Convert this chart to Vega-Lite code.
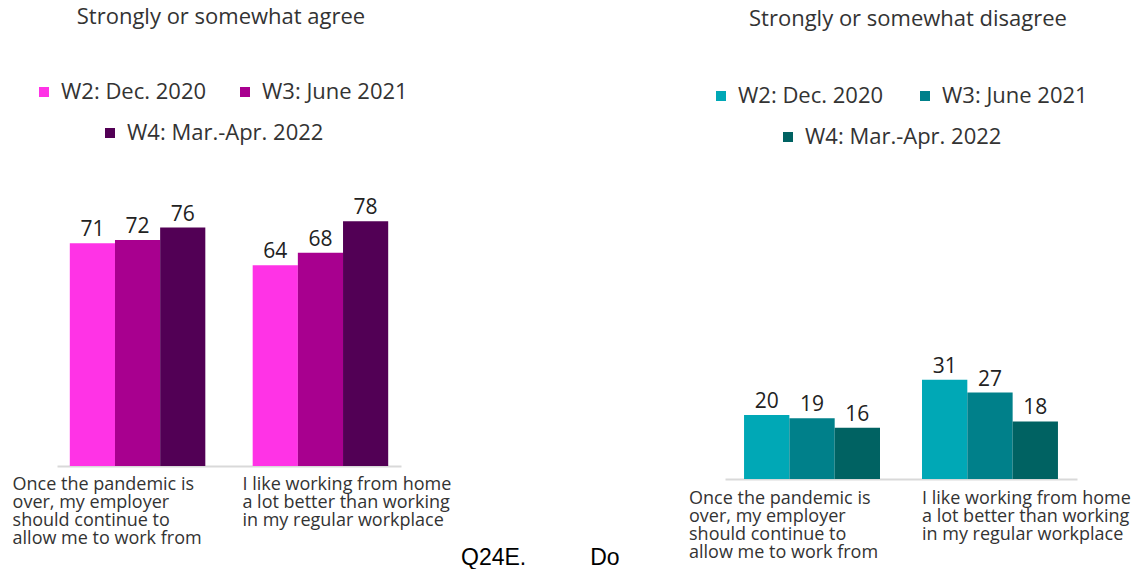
{
  "$schema": "https://vega.github.io/schema/vega-lite/v6.json",
  "padding": {"left": 12, "top": 6, "right": 0, "bottom": 0},
  "background": "white",
  "config": {
    "view": {"stroke": null},
    "font": "Open Sans",
    "title": {"font": "Open Sans", "fontSize": 22, "fontWeight": "normal", "color": "#333333"},
    "concat": {"spacing": 237}
  },
  "data": {
    "values": [
      {"panel": "agree", "statement": "Once the pandemic is over, my employer should continue to allow me to work from", "wave": "W2: Dec. 2020", "value": 71},
      {"panel": "agree", "statement": "Once the pandemic is over, my employer should continue to allow me to work from", "wave": "W3: June 2021", "value": 72},
      {"panel": "agree", "statement": "Once the pandemic is over, my employer should continue to allow me to work from", "wave": "W4: Mar.-Apr. 2022", "value": 76},
      {"panel": "agree", "statement": "I like working from home a lot better than working in my regular workplace", "wave": "W2: Dec. 2020", "value": 64},
      {"panel": "agree", "statement": "I like working from home a lot better than working in my regular workplace", "wave": "W3: June 2021", "value": 68},
      {"panel": "agree", "statement": "I like working from home a lot better than working in my regular workplace", "wave": "W4: Mar.-Apr. 2022", "value": 78},
      {"panel": "disagree", "statement": "Once the pandemic is over, my employer should continue to allow me to work from", "wave": "W2: Dec. 2020", "value": 20},
      {"panel": "disagree", "statement": "Once the pandemic is over, my employer should continue to allow me to work from", "wave": "W3: June 2021", "value": 19},
      {"panel": "disagree", "statement": "Once the pandemic is over, my employer should continue to allow me to work from", "wave": "W4: Mar.-Apr. 2022", "value": 16},
      {"panel": "disagree", "statement": "I like working from home a lot better than working in my regular workplace", "wave": "W2: Dec. 2020", "value": 31},
      {"panel": "disagree", "statement": "I like working from home a lot better than working in my regular workplace", "wave": "W3: June 2021", "value": 27},
      {"panel": "disagree", "statement": "I like working from home a lot better than working in my regular workplace", "wave": "W4: Mar.-Apr. 2022", "value": 18}
    ]
  },
  "title": {
    "text": "Q24E.\u00a0\u00a0\u00a0\u00a0\u00a0\u00a0\u00a0\u00a0\u00a0\u00a0Do",
    "orient": "bottom",
    "anchor": "start",
    "font": "Liberation Sans",
    "fontSize": 23,
    "fontWeight": "normal",
    "color": "#000000",
    "offset": 0,
    "dx": 449,
    "dy": -15
  },
  "resolve": {
    "scale": {"x": "independent", "y": "independent", "xOffset": "independent", "color": "independent", "fill": "independent"},
    "legend": {"color": "independent", "fill": "independent"}
  },
  "hconcat": [
    {
      "width": 344,
      "height": 251,
      "title": {"text": "Strongly or somewhat agree", "offset": 52, "anchor": "middle", "dx": -8},
      "transform": [{"filter": "datum.panel === 'agree'"}],
      "encoding": {
        "x": {
          "field": "statement", "type": "nominal",
          "sort": ["Once the pandemic is over, my employer should continue to allow me to work from", "I like working from home a lot better than working in my regular workplace"],
          "title": null,
          "scale": {"paddingInner": 0.259, "paddingOuter": 0.07},
          "axis": {
            "domain": true, "domainColor": "#d9d9d9", "domainWidth": 2,
            "ticks": false, "labelAngle": 0, "labelAlign": "left", "labelBaseline": "top",
            "labelPadding": 9, "labelFont": "Open Sans", "labelFontSize": 18, "labelLineHeight": 18.3,
            "labelColor": "#333333", "labelLimit": 0,
            "labelExpr": "indexof(datum.label, 'Once') === 0 ? ['Once the pandemic is', 'over, my employer', 'should continue to', 'allow me to work from'] : ['I like working from home', 'a lot better than working', 'in my regular workplace']",
            "labelOffset": {"condition": {"test": "indexof(datum.value, 'Once') === 0", "value": -125}, "value": -78}
          }
        },
        "xOffset": {"field": "wave", "type": "nominal", "sort": ["W2: Dec. 2020", "W3: June 2021", "W4: Mar.-Apr. 2022"], "scale": {"domain": ["W2: Dec. 2020", "W3: June 2021", "W4: Mar.-Apr. 2022"], "paddingInner": 0, "paddingOuter": 0}},
        "y": {"field": "value", "type": "quantitative", "scale": {"domain": [0, 80]}, "axis": null}
      },
      "layer": [
        {
          "transform": [{"filter": "datum.wave !== 'W4: Mar.-Apr. 2022'"}],
          "mark": {"type": "bar"},
          "encoding": {
            "color": {
              "field": "wave", "type": "nominal",
              "scale": {"domain": ["W2: Dec. 2020", "W3: June 2021"], "range": ["#FF33E6", "#A8008F"]},
              "legend": {"orient": "none", "legendX": -24, "legendY": -134, "direction": "horizontal", "title": null, "symbolType": "square", "symbolSize": 100, "symbolStrokeWidth": 0, "labelFont": "Open Sans", "labelFontSize": 22, "labelColor": "#333333", "labelOffset": 6, "columnPadding": 27, "labelLimit": 0}
            }
          }
        },
        {
          "transform": [{"filter": "datum.wave === 'W4: Mar.-Apr. 2022'"}],
          "mark": {"type": "bar"},
          "encoding": {
            "fill": {
              "field": "wave", "type": "nominal",
              "scale": {"domain": ["W4: Mar.-Apr. 2022"], "range": ["#520055"]},
              "legend": {"orient": "none", "legendX": 42, "legendY": -93, "direction": "horizontal", "title": null, "symbolType": "square", "symbolSize": 100, "symbolStrokeWidth": 0, "labelFont": "Open Sans", "labelFontSize": 22, "labelColor": "#333333", "labelOffset": 6, "labelLimit": 0}
            }
          }
        },
        {
          "mark": {"type": "text", "baseline": "alphabetic", "dy": -7, "font": "Open Sans", "fontSize": 21, "color": "#222222"},
          "encoding": {"text": {"field": "value", "type": "quantitative"}}
        }
      ]
    },
    {
      "width": 352,
      "height": 264,
      "title": {"text": "Strongly or somewhat disagree", "offset": 54, "anchor": "middle", "dx": 7},
      "transform": [{"filter": "datum.panel === 'disagree'"}],
      "encoding": {
        "x": {
          "field": "statement", "type": "nominal",
          "sort": ["Once the pandemic is over, my employer should continue to allow me to work from", "I like working from home a lot better than working in my regular workplace"],
          "title": null,
          "scale": {"paddingInner": 0.236, "paddingOuter": 0.107},
          "axis": {
            "domain": true, "domainColor": "#d9d9d9", "domainWidth": 2,
            "ticks": false, "labelAngle": 0, "labelAlign": "left", "labelBaseline": "top",
            "labelPadding": 10, "labelFont": "Open Sans", "labelFontSize": 18, "labelLineHeight": 18.3,
            "labelColor": "#333333", "labelLimit": 0,
            "labelExpr": "indexof(datum.label, 'Once') === 0 ? ['Once the pandemic is', 'over, my employer', 'should continue to', 'allow me to work from'] : ['I like working from home', 'a lot better than working', 'in my regular workplace']",
            "labelOffset": {"condition": {"test": "indexof(datum.value, 'Once') === 0", "value": -123}, "value": -68}
          }
        },
        "xOffset": {"field": "wave", "type": "nominal", "sort": ["W2: Dec. 2020", "W3: June 2021", "W4: Mar.-Apr. 2022"], "scale": {"domain": ["W2: Dec. 2020", "W3: June 2021", "W4: Mar.-Apr. 2022"], "paddingInner": 0, "paddingOuter": 0}},
        "y": {"field": "value", "type": "quantitative", "scale": {"domain": [0, 82.5]}, "axis": null}
      },
      "layer": [
        {
          "transform": [{"filter": "datum.wave !== 'W4: Mar.-Apr. 2022'"}],
          "mark": {"type": "bar"},
          "encoding": {
            "color": {
              "field": "wave", "type": "nominal",
              "scale": {"domain": ["W2: Dec. 2020", "W3: June 2021"], "range": ["#00A8B6", "#00808A"]},
              "legend": {"orient": "none", "legendX": -15, "legendY": -130, "direction": "horizontal", "title": null, "symbolType": "square", "symbolSize": 100, "symbolStrokeWidth": 0, "labelFont": "Open Sans", "labelFontSize": 22, "labelColor": "#333333", "labelOffset": 6, "columnPadding": 30, "labelLimit": 0}
            }
          }
        },
        {
          "transform": [{"filter": "datum.wave === 'W4: Mar.-Apr. 2022'"}],
          "mark": {"type": "bar"},
          "encoding": {
            "fill": {
              "field": "wave", "type": "nominal",
              "scale": {"domain": ["W4: Mar.-Apr. 2022"], "range": ["#006262"]},
              "legend": {"orient": "none", "legendX": 52, "legendY": -89, "direction": "horizontal", "title": null, "symbolType": "square", "symbolSize": 100, "symbolStrokeWidth": 0, "labelFont": "Open Sans", "labelFontSize": 22, "labelColor": "#333333", "labelOffset": 6, "labelLimit": 0}
            }
          }
        },
        {
          "mark": {"type": "text", "baseline": "alphabetic", "dy": -7, "font": "Open Sans", "fontSize": 21, "color": "#222222"},
          "encoding": {"text": {"field": "value", "type": "quantitative"}}
        }
      ]
    }
  ]
}
